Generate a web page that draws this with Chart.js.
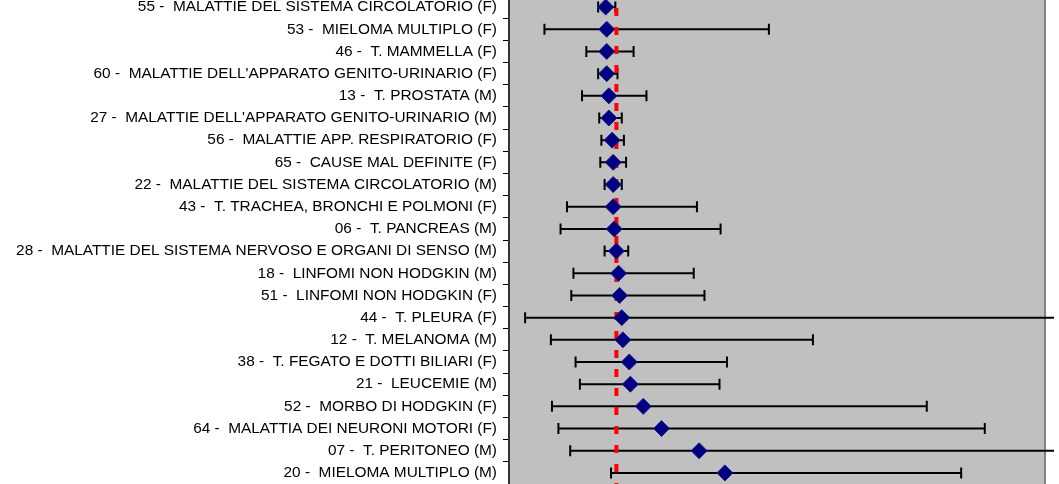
<!DOCTYPE html>
<html>
<head>
<meta charset="utf-8">
<script src="https://cdn.jsdelivr.net/npm/chart.js@4/dist/chart.umd.min.js"></script>
<style>
    html, body { margin: 0; padding: 0; background: #fff; overflow: hidden; }
    #box { position: absolute; left: 0; top: -13px; width: 1059px; height: 506px; }
</style>
</head>
<body>
<div id="box"><canvas id="grafico" width="1059" height="506"></canvas></div>
<script>
// cause di morte (righe dall'alto verso il basso)
const cause = [
    "55 -  MALATTIE DEL SISTEMA CIRCOLATORIO (F)",
    "53 -  MIELOMA MULTIPLO (F)",
    "46 -  T. MAMMELLA (F)",
    "60 -  MALATTIE DELL'APPARATO GENITO-URINARIO (F)",
    "13 -  T. PROSTATA (M)",
    "27 -  MALATTIE DELL'APPARATO GENITO-URINARIO (M)",
    "56 -  MALATTIE APP. RESPIRATORIO (F)",
    "65 -  CAUSE MAL DEFINITE (F)",
    "22 -  MALATTIE DEL SISTEMA CIRCOLATORIO (M)",
    "43 -  T. TRACHEA, BRONCHI E POLMONI (F)",
    "06 -  T. PANCREAS (M)",
    "28 -  MALATTIE DEL SISTEMA NERVOSO E ORGANI DI SENSO (M)",
    "18 -  LINFOMI NON HODGKIN (M)",
    "51 -  LINFOMI NON HODGKIN (F)",
    "44 -  T. PLEURA (F)",
    "12 -  T. MELANOMA (M)",
    "38 -  T. FEGATO E DOTTI BILIARI (F)",
    "21 -  LEUCEMIE (M)",
    "52 -  MORBO DI HODGKIN (F)",
    "64 -  MALATTIA DEI NEURONI MOTORI (F)",
    "07 -  T. PERITONEO (M)",
    "20 -  MIELOMA MULTIPLO (M)"
];

const smr = [0.90, 0.91, 0.91, 0.91, 0.93, 0.93, 0.96, 0.97, 0.97, 0.97, 0.98,
             1.00, 1.02, 1.03, 1.05, 1.06, 1.12, 1.13, 1.25, 1.42, 1.77, 2.01];
const icInf = [0.83, 0.33, 0.72, 0.83, 0.68, 0.84, 0.86, 0.85, 0.89, 0.54, 0.48,
               0.89, 0.60, 0.58, 0.15, 0.39, 0.62, 0.66, 0.40, 0.46, 0.57, 0.95];
const icSup = [0.99, 2.42, 1.16, 1.01, 1.28, 1.05, 1.07, 1.09, 1.05, 1.75, 1.97,
               1.11, 1.72, 1.82, 6.50, 2.83, 2.03, 1.96, 3.89, 4.43, 6.50, 4.21];

const xMin = 0;
const xMax = 5;
const riferimento = 1;

// sfondo grigio e bordo destro dell'area del grafico
const sfondoPlugin = {
    id: 'sfondo',
    beforeDraw(chart) {
        const a = chart.chartArea;
        const ctx = chart.ctx;
        ctx.save();
        ctx.fillStyle = '#C0C0C0';
        ctx.fillRect(a.left, a.top, a.right - a.left, a.bottom - a.top);
        ctx.strokeStyle = '#808080';
        ctx.lineWidth = 2;
        ctx.beginPath();
        ctx.moveTo(a.right - 1, a.top);
        ctx.lineTo(a.right - 1, a.bottom);
        ctx.stroke();
        ctx.restore();
    }
};

// barre di errore + linea rossa tratteggiata
const erroriPlugin = {
    id: 'errori',
    beforeDatasetsDraw(chart) {
        const ctx = chart.ctx;
        const x = chart.scales.x;
        const y = chart.scales.y;
        const a = chart.chartArea;
        const limite = a.right + 8;
        ctx.save();
        ctx.strokeStyle = '#000';
        ctx.lineWidth = 2;
        for (let i = 0; i < cause.length; i++) {
            const py = y.getPixelForValue(i);
            const x1 = x.getPixelForValue(icInf[i]);
            const x2 = Math.min(x.getPixelForValue(icSup[i]), limite);
            ctx.beginPath();
            ctx.moveTo(x1, py);
            ctx.lineTo(x2, py);
            ctx.moveTo(x1, py - 5.5);
            ctx.lineTo(x1, py + 5.5);
            if (icSup[i] <= xMax) {
                ctx.moveTo(x2, py - 5.5);
                ctx.lineTo(x2, py + 5.5);
            }
            ctx.stroke();
        }
        const rx = x.getPixelForValue(riferimento);
        ctx.strokeStyle = '#FF0000';
        ctx.lineWidth = 4;
        ctx.setLineDash([8, 11]);
        ctx.lineDashOffset = 7;
        ctx.beginPath();
        ctx.moveTo(rx, a.top);
        ctx.lineTo(rx, a.bottom);
        ctx.stroke();
        ctx.restore();
    }
};

const punti = smr.map((v, i) => ({ x: v, y: cause[i] }));

new Chart(document.getElementById('grafico').getContext('2d'), {
    type: 'scatter',
    data: {
        labels: cause,
        datasets: [{
            label: 'SMR',
            data: punti,
            pointStyle: 'rectRot',
            pointRadius: 8,
            pointHoverRadius: 8,
            backgroundColor: '#000080',
            borderColor: '#1a1a8c',
            borderWidth: 1
        }]
    },
    options: {
        responsive: false,
        animation: false,
        devicePixelRatio: 1,
        layout: {
            padding: { left: 0, right: 13, top: 1, bottom: 7 }
        },
        plugins: {
            legend: { display: false },
            tooltip: { enabled: false }
        },
        scales: {
            x: {
                type: 'linear',
                display: false,
                min: xMin,
                max: xMax
            },
            y: {
                type: 'category',
                labels: cause,
                offset: true,
                afterFit(scale) {
                    scale.width = 509;
                    scale.paddingTop = 0;
                    scale.paddingBottom = 0;
                },
                grid: {
                    offset: true,
                    drawOnChartArea: false,
                    drawTicks: true,
                    tickLength: 6,
                    color: '#000',
                    lineWidth: 1
                },
                border: { display: true, color: '#333', width: 2 },
                ticks: {
                    autoSkip: false,
                    padding: 6,
                    color: '#000',
                    font: { family: 'Liberation Sans', size: 15.4 }
                }
            }
        }
    },
    plugins: [sfondoPlugin, erroriPlugin]
});
</script>
</body>
</html>
